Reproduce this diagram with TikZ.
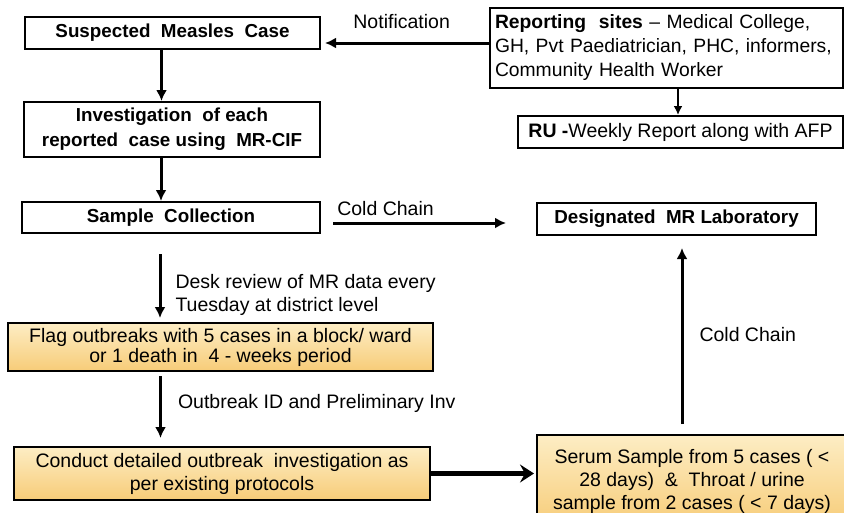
\documentclass[tikz,border=0pt]{standalone}
\usepackage{fontspec}
\setmainfont{Liberation Sans}
\usetikzlibrary{arrows.meta,calc}
\definecolor{fltop}{HTML}{FDEDC4}
\definecolor{flbot}{HTML}{F7CC78}
\begin{document}
\begin{tikzpicture}[x=1pt,y=1pt,
  box/.style={draw=black,line width=2pt,inner sep=2pt,align=center,font=\fontsize{18.8}{25}\selectfont\bfseries},
  fbox/.style={draw=black,line width=2pt,inner sep=2pt,align=center,top color=fltop,bottom color=flbot,font=\fontsize{19.5}{20}\selectfont},
  arr/.style={line width=3pt,-{Latex[length=11pt,width=11pt]}},
  lbl/.style={font=\fontsize{19.5}{22.5}\selectfont,align=left,inner sep=0pt}]
\useasboundingbox (0,0) rectangle (844,-512);
% nodes
\node[box,minimum width=295pt,minimum height=32pt] (sus) at (172.5,-33) {Suspected\ \ Measles\ \ Case};
\node[box,minimum width=296pt,minimum height=55pt] (inv) at (172,-129.5) {Investigation\ \ of each\\reported\ \ case using\ \ MR-CIF};
\node[box,minimum width=298pt,minimum height=31pt] (samp) at (171,-217.5) {Sample\ \ Collection};
\node[box,minimum width=353pt,minimum height=80pt,align=left,font=\fontsize{19.3}{24}\selectfont,text width=343pt,inner xsep=4pt] (rep) at (666.5,-48) {\textbf{Reporting\ \ sites} – Medical College,\\GH, Pvt Paediatrician,\ PHC, informers,\\Community\ Health\ Worker};
\node[box,minimum width=325pt,minimum height=32pt,font=\fontsize{19.5}{24}\selectfont] (ru) at (680.5,-132) {\textbf{RU -}Weekly\ Report along\ with AFP};
\node[box,minimum width=279pt,minimum height=32pt] (lab) at (676.5,-219) {Designated\ \ MR Laboratory};
\node[fbox,minimum width=425pt,minimum height=48pt] (flag) at (220.5,-347) {Flag outbreaks\ with 5 cases in a block/\ ward\\or 1 death\ in\ \ 4 - weeks period};
\node[fbox,minimum width=416pt,minimum height=53pt,font=\fontsize{19.5}{23}\selectfont] (cond) at (222,-473.5) {Conduct detailed outbreak\ \ investigation as\\per existing protocols};
\node[fbox,minimum width=310pt,minimum height=92pt,font=\fontsize{19.5}{23}\selectfont] (ser) at (692,-481) {Serum\ Sample\ from 5 cases ( <\\28 days)\ \ \&\ \ Throat / urine\\sample\ from\ 2 cases ( < 7 days)};
% connectors
\draw[arr,shorten >=4pt] ([yshift=5pt]rep.west) -- ([yshift=5pt]rep.west -| sus.east) node[lbl,pos=0.52,above=13pt] {Notification};
\draw[arr,line width=2.5pt,-{Latex[length=9pt,width=9pt]}] ([xshift=11.5pt]rep.south) -- ([xshift=11.5pt]rep.south |- ru.north);
\draw[arr] ([xshift=-11pt]sus.south) -- ([xshift=-11pt]sus.south |- inv.north);
\draw[arr] ([xshift=-11pt]inv.south) -- ([xshift=-11pt]inv.south |- samp.north);
\draw[arr,shorten <=12pt,shorten >=30pt] ([yshift=-5.5pt]samp.east) -- ([yshift=-5.5pt]samp.east -| lab.west) node[lbl,pos=0.3,above=6pt] {Cold Chain};
\draw[arr,shorten <=20pt,shorten >=4pt] ([xshift=-11pt]samp.south) -- ([xshift=-11pt]samp.south |- flag.north) node[lbl,pos=0.69,right=14pt] {Desk review\ of MR data every\\Tuesday\ at district level};
\draw[arr,shorten <=4pt,shorten >=8pt] ([xshift=-60pt]flag.south) -- ([xshift=-60pt]flag.south |- cond.north) node[lbl,pos=0.43,right=16pt] {Outbreak ID and Preliminary\ Inv};
\draw[line width=4.5pt,-{Stealth[length=14pt,width=18pt,inset=5pt]},shorten >=2pt] (cond.east) -- (cond.east -| ser.west);
\draw[arr,shorten <=10pt,shorten >=12pt] ([xshift=-10pt]ser.north) -- ([xshift=-10pt]ser.north |- lab.south) node[lbl,pos=0.5,right=16pt] {Cold Chain};
\end{tikzpicture}
\end{document}
